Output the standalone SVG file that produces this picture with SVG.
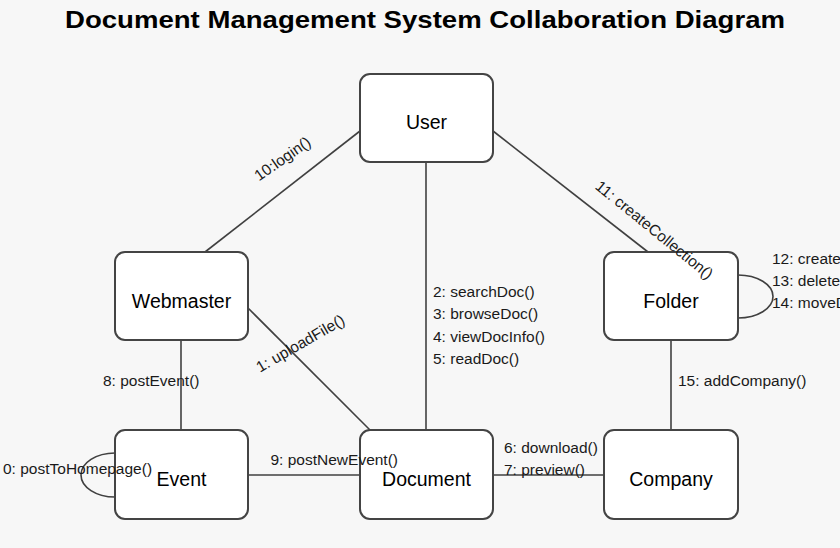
<svg xmlns="http://www.w3.org/2000/svg" width="840" height="548" viewBox="0 0 840 548">
<style>
.bg{fill:#f7f7f7}
.node rect{fill:#ffffff;stroke:#444444;stroke-width:2}
.node text{font-family:"Liberation Sans",Arial,sans-serif;font-size:19.5px;fill:#000;text-anchor:middle}
#connectors line,#connectors path{stroke:#404040;stroke-width:1.6;fill:none}
.lbl{font-family:"Liberation Sans",Arial,sans-serif;font-size:15.5px;fill:#1a1a1a}
.title{font-family:"Liberation Sans",Arial,sans-serif;font-size:24.5px;font-weight:bold;fill:#000;text-anchor:middle}
</style>
<rect class="bg" x="0" y="0" width="840" height="548"/>
<text class="title" x="425" y="27.5" textLength="720" lengthAdjust="spacingAndGlyphs">Document Management System Collaboration Diagram</text>
<g id="connectors">
<line x1="360" y1="131" x2="205" y2="252"/>
<line x1="493" y1="131" x2="648" y2="252"/>
<line x1="426" y1="162" x2="426" y2="430"/>
<line x1="248" y1="308" x2="371" y2="431"/>
<line x1="181" y1="340" x2="181" y2="430"/>
<line x1="248" y1="475" x2="360" y2="475"/>
<line x1="493" y1="475" x2="604" y2="475"/>
<line x1="671" y1="340" x2="671" y2="430"/>
<path d="M738,275 A35,21.5 0 0 1 738,318"/>
<path d="M115,453 A34,22 0 0 0 115,497"/>
</g>
<g id="node-user" class="node"><rect x="360" y="74" width="133" height="88" rx="10"/><text x="426.5" y="129">User</text></g>
<g id="node-webmaster" class="node"><rect x="115" y="252" width="133" height="88" rx="10"/><text x="181.5" y="308">Webmaster</text></g>
<g id="node-folder" class="node"><rect x="604" y="252" width="134" height="88" rx="10"/><text x="671" y="308">Folder</text></g>
<g id="node-event" class="node"><rect x="115" y="430" width="133" height="89" rx="10"/><text x="181.5" y="486">Event</text></g>
<g id="node-document" class="node"><rect x="360" y="430" width="133" height="89" rx="10"/><text x="426.5" y="486">Document</text></g>
<g id="node-company" class="node"><rect x="604" y="430" width="134" height="89" rx="10"/><text x="671" y="486">Company</text></g>
<g id="labels">
<text class="lbl" text-anchor="middle" transform="translate(285.5,163) rotate(-35)">10:login()</text>
<text class="lbl" text-anchor="middle" transform="translate(651,234) rotate(39)">11: createCollection()</text>
<text class="lbl" text-anchor="middle" transform="translate(303,348) rotate(-30)">1: uploadFile()</text>
<text class="lbl" x="772" y="264">12: create</text>
<text class="lbl" x="772" y="286">13: delete</text>
<text class="lbl" x="772" y="308">14: moveD</text>
<text class="lbl" x="433" y="297">2: searchDoc()</text>
<text class="lbl" x="433" y="319.4">3: browseDoc()</text>
<text class="lbl" x="433" y="341.8">4: viewDocInfo()</text>
<text class="lbl" x="433" y="364.2">5: readDoc()</text>
<text class="lbl" x="103" y="386">8: postEvent()</text>
<text class="lbl" x="678" y="386">15: addCompany()</text>
<text class="lbl" x="270.5" y="465">9: postNewEvent()</text>
<text class="lbl" x="504" y="453">6: download()</text>
<text class="lbl" x="504" y="475">7: preview()</text>
<text class="lbl" x="3" y="474">0: postToHomepage()</text>
</g>
</svg>
